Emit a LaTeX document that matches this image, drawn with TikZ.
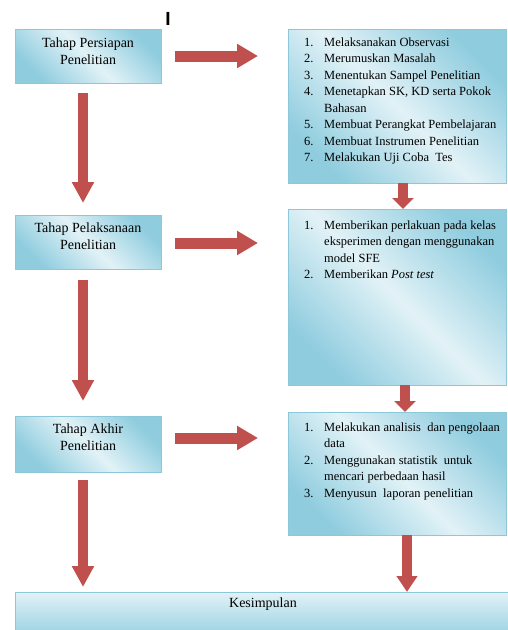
\documentclass[tikz,border=0pt]{standalone}
\usepackage{fontspec}
\setmainfont{Liberation Serif}
\newfontfamily\cursorfont{Liberation Sans}
\usetikzlibrary{arrows.meta,shadows}
\definecolor{boxdark}{RGB}{142,204,222}
\definecolor{boxlight}{RGB}{226,242,247}
\definecolor{boxline}{RGB}{140,200,218}
\definecolor{arrowred}{RGB}{192,80,77}
\tikzset{
  box/.style={rectangle, draw=boxline, line width=0.6pt, inner sep=0pt, outer sep=0pt,
    top color=boxdark, bottom color=boxdark, middle color=boxlight, shading angle=-45,
    drop shadow={shadow xshift=0.8pt, shadow yshift=-1.2pt, fill=black, opacity=0.25}},
  kbox/.style={rectangle, draw=boxline, line width=0.6pt, inner sep=0pt, outer sep=0pt,
    top color=boxlight, bottom color=boxdark},
  lbl/.style={font=\fontsize{14}{17}\selectfont, align=center, inner sep=0pt},
  lst/.style={font=\fontsize{12.5}{16.5}\selectfont, anchor=base west, inner sep=0pt},
  bigharrow/.style={draw=arrowred, line width=11pt, -{Triangle[length=21pt,width=23pt]}, arrowred},
  bigvarrow/.style={draw=arrowred, line width=10pt, -{Triangle[length=21pt,width=21pt]}, arrowred},
  smallarrow/.style={draw=arrowred, line width=10pt, -{Triangle[length=11pt,width=21pt]}, arrowred},
}
\begin{document}
\begin{tikzpicture}[x=1pt,y=-1pt]
\useasboundingbox (0,0) rectangle (508,630);

% left boxes
\node[box, minimum width=146pt, minimum height=54pt] (b1) at (88,56) {};
\node[box, minimum width=146pt, minimum height=54pt] (b2) at (88,242) {};
\node[box, minimum width=146pt, minimum height=56pt] (b3) at (88,444) {};
\node[lbl] (t1) at (88,51) {Tahap Persiapan\\Penelitian};
\node[lbl] (t2) at (88,236) {Tahap Pelaksanaan\\Penelitian};
\node[lbl] (t3) at (88,437.5) {Tahap Akhir\\Penelitian};

% right boxes
\node[box, minimum width=218pt, minimum height=154pt] (r1) at (397,106) {};
\node[box, minimum width=218pt, minimum height=176pt] (r2) at (397,297) {};
\node[box, minimum width=218pt, minimum height=123pt] (r3) at (397,473.5) {};

\node[lst] (l1) at (304,46) {\begin{tabular}[t]{@{}l@{}}
\makebox[20pt][l]{1.}Melaksanakan Observasi\\
\makebox[20pt][l]{2.}Merumuskan Masalah\\
\makebox[20pt][l]{3.}Menentukan Sampel Penelitian\\
\makebox[20pt][l]{4.}Menetapkan SK, KD serta Pokok\\
\hspace{20pt}Bahasan\\
\makebox[20pt][l]{5.}Membuat Perangkat Pembelajaran\\
\makebox[20pt][l]{6.}Membuat Instrumen Penelitian\\
\makebox[20pt][l]{7.}Melakukan Uji Coba\ \ Tes
\end{tabular}};

\node[lst] (l2) at (304,229) {\begin{tabular}[t]{@{}l@{}}
\makebox[20pt][l]{1.}Memberikan perlakuan pada kelas\\
\hspace{20pt}eksperimen dengan menggunakan\\
\hspace{20pt}model SFE\\
\makebox[20pt][l]{2.}Memberikan \textit{Post test}
\end{tabular}};

\node[lst] (l3) at (304,431) {\begin{tabular}[t]{@{}l@{}}
\makebox[20pt][l]{1.}Melakukan analisis\ \ dan pengolaan\\
\hspace{20pt}data\\
\makebox[20pt][l]{2.}Menggunakan statistik\ \ untuk\\
\hspace{20pt}mencari perbedaan hasil\\
\makebox[20pt][l]{3.}Menyusun\ \ laporan penelitian
\end{tabular}};

% conclusion box
\node[kbox, minimum width=493pt, minimum height=50pt] (k) at (261.5,617) {};
\node[lbl] (kt) at (263,604) {Kesimpulan};

% stray cursor mark
\node[font=\cursorfont\bfseries\fontsize{19}{19}\selectfont, inner sep=0pt] (cur) at (168,19) {I};

% horizontal arrows
\draw[bigharrow, shorten <=14pt, shorten >=30pt] (b1.east) -- (b1.east -| r1.west);
\draw[bigharrow, shorten <=14pt, shorten >=30pt] ([yshift=-1pt]b2.east) -- ([yshift=-1pt]b2.east -| r2.west);
\draw[bigharrow, shorten <=14pt, shorten >=30pt] ([yshift=6pt]b3.east) -- ([yshift=6pt]b3.east -| r3.west);

% left vertical arrows
\draw[bigvarrow, shorten <=10pt, shorten >=12pt] ([xshift=-5pt]b1.south) -- ([xshift=-5pt]b1.south |- b2.north);
\draw[bigvarrow, shorten <=11pt, shorten >=15pt] ([xshift=-5pt]b2.south) -- ([xshift=-5pt]b2.south |- b3.north);
\draw[bigvarrow, shorten <=8pt, shorten >=5pt] ([xshift=-5pt]b3.south) -- ([xshift=-5pt]b3.south |- k.north);

% right vertical arrows
\draw[smallarrow] ([xshift=6pt]r1.south) -- ([xshift=6pt]r1.south |- r2.north);
\draw[smallarrow] ([xshift=8pt]r2.south) -- ([xshift=8pt]r2.south |- r3.north);
\draw[smallarrow, -{Triangle[length=16pt,width=20pt]}] ([xshift=10pt]r3.south) -- ([xshift=10pt]r3.south |- k.north);
\end{tikzpicture}
\end{document}
